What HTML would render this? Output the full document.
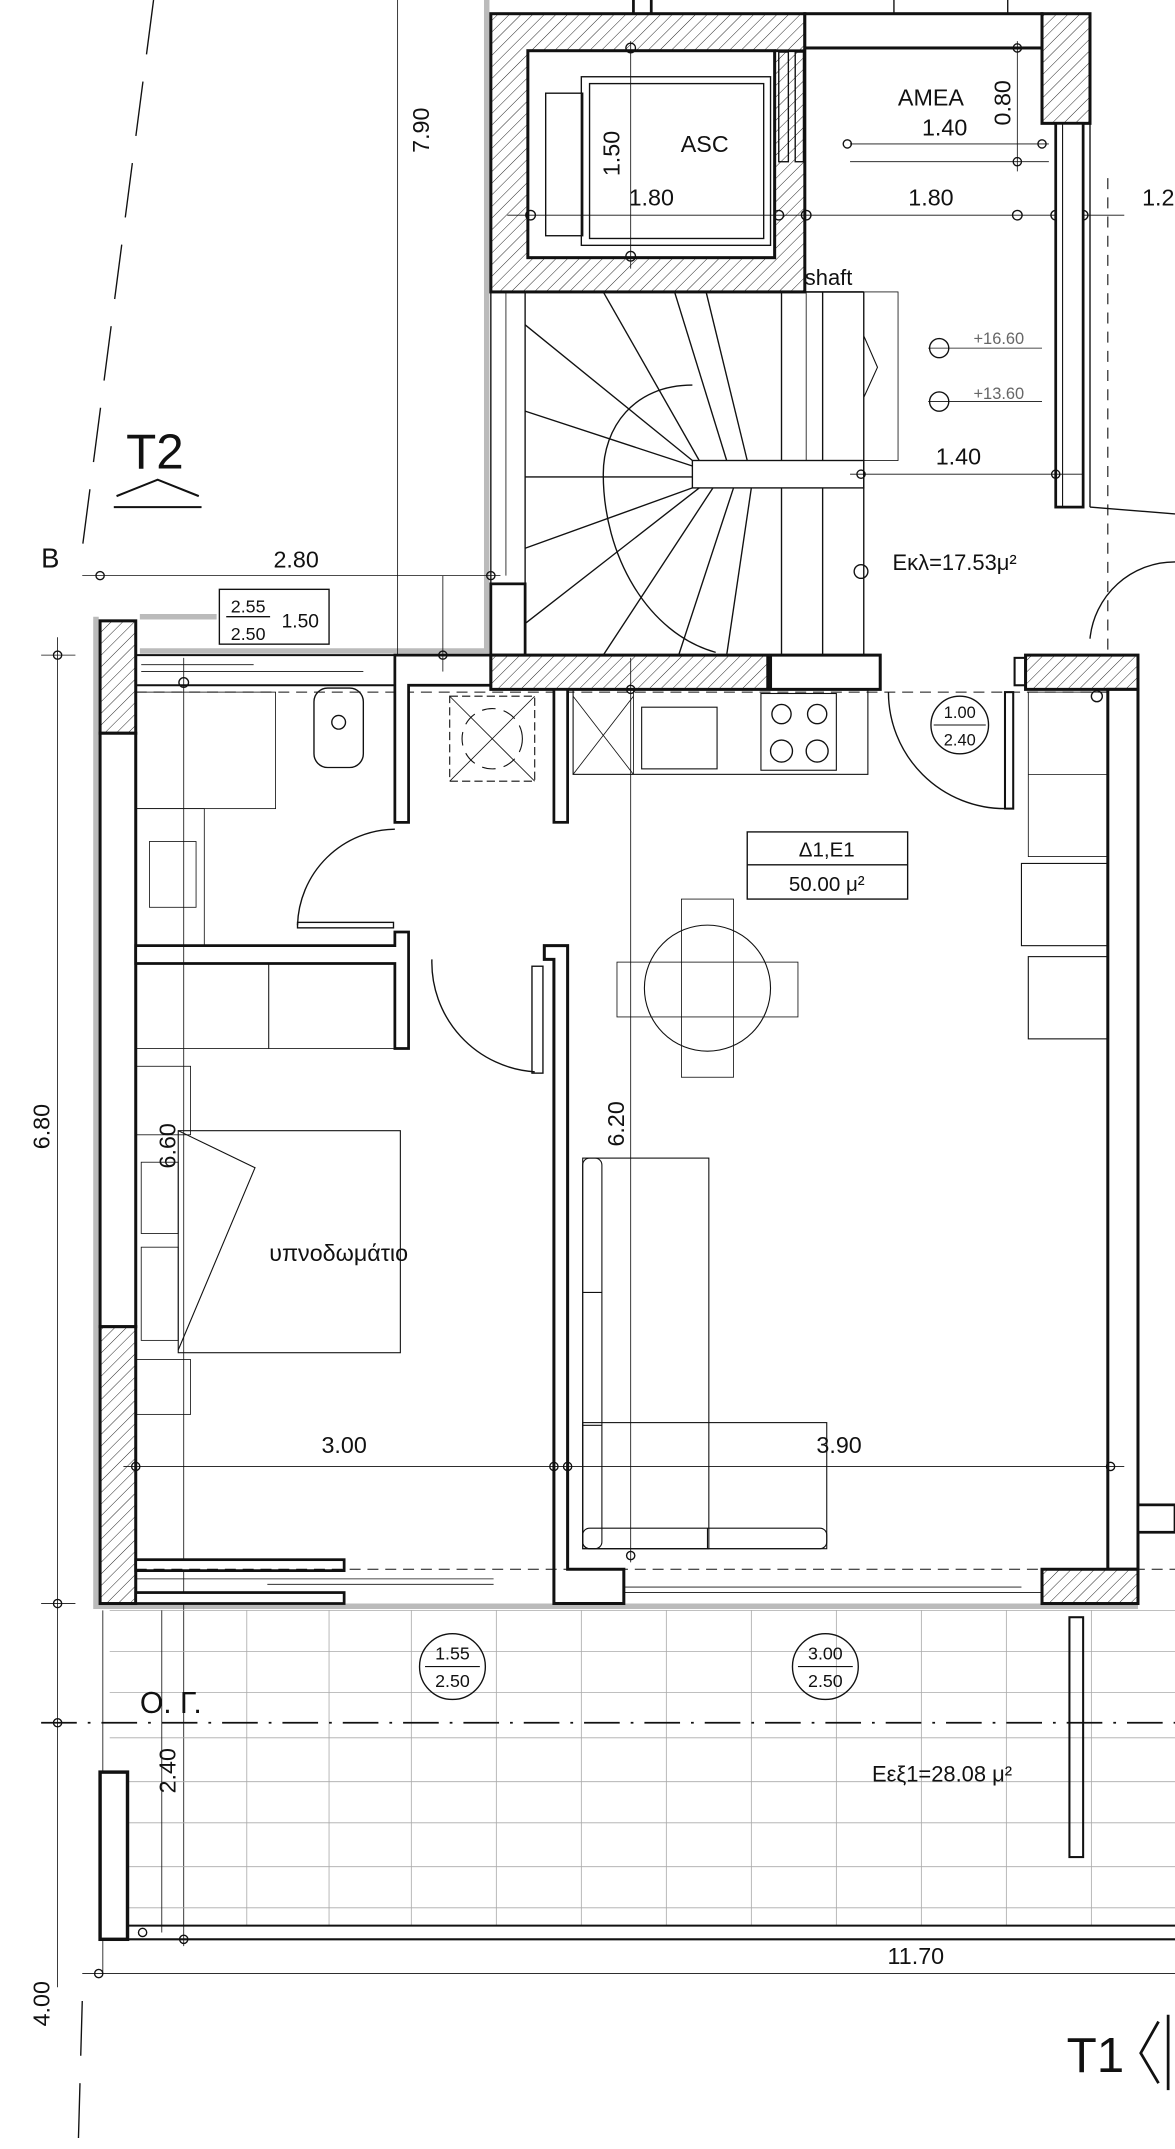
<!DOCTYPE html>
<html><head><meta charset="utf-8"><style>
html,body{margin:0;padding:0;background:#fff}
svg{display:block}
text{font-family:"Liberation Sans",sans-serif;fill:#111}
</style></head><body>
<svg width="1175" height="2149" viewBox="0 0 857 1568" preserveAspectRatio="none" xmlns="http://www.w3.org/2000/svg">
<defs>
<pattern id="h" patternUnits="userSpaceOnUse" width="6" height="6" patternTransform="rotate(45)">
<rect width="6" height="6" fill="#fff"/><line x1="0" y1="0" x2="0" y2="6" stroke="#222" stroke-width="0.7"/>
</pattern>
</defs>
<g fill="none" stroke="#111">
<line x1="112" y1="0" x2="60" y2="400" stroke-width="1" stroke-dasharray="40,20"/>
<line x1="60" y1="1460" x2="57" y2="1568" stroke-width="1" stroke-dasharray="40,20"/>
<line x1="75" y1="1175" x2="75" y2="1440" stroke-width="0.6"/>
<path d="M70,450 V1172 H830 M102,450 H158 M102,475 H355 V0" stroke="#bbb" stroke-width="4"/>
<line x1="290" y1="0" x2="290" y2="478" stroke-width="0.6"/>
<line x1="462" y1="0" x2="462" y2="10" stroke-width="2"/>
<line x1="475" y1="0" x2="475" y2="10" stroke-width="2"/>
<rect x="358" y="10" width="229" height="203" fill="url(#h)" stroke-width="2.2"/>
<rect x="385" y="37" width="180" height="151" fill="#fff" stroke-width="2.2"/>
<rect x="424" y="56" width="138" height="123" stroke-width="1"/>
<rect x="430" y="61" width="127" height="113" stroke-width="1"/>
<rect x="398" y="68" width="27" height="104" stroke-width="1"/>
<line x1="565" y1="37" x2="587" y2="37" stroke-width="2"/>
<rect x="568" y="38" width="7" height="80" stroke-width="1"/>
<rect x="580" y="38" width="6" height="80" stroke-width="1"/>
<line x1="460" y1="30" x2="460" y2="196" stroke-width="0.6"/>
<line x1="370" y1="157" x2="820" y2="157" stroke-width="0.6"/>
<circle cx="460" cy="35" r="3.5"/><circle cx="460" cy="187" r="3.5"/>
<circle cx="387" cy="157" r="3.5"/><circle cx="568" cy="157" r="3.5"/><circle cx="588" cy="157" r="3.5"/>
<circle cx="742" cy="157" r="3.5"/><circle cx="770" cy="157" r="3.5"/><circle cx="790" cy="157" r="3.5"/>
<rect x="587" y="10" width="173" height="25" stroke-width="2.2" fill="#fff"/>
<line x1="652" y1="0" x2="652" y2="10" stroke-width="1"/><line x1="735" y1="0" x2="735" y2="10" stroke-width="1"/>
<rect x="760" y="10" width="35" height="80" fill="url(#h)" stroke-width="2.2"/>
<line x1="620" y1="105" x2="765" y2="105" stroke-width="0.6"/>
<line x1="620" y1="118" x2="765" y2="118" stroke-width="0.6"/>
<line x1="742" y1="30" x2="742" y2="125" stroke-width="0.6"/>
<circle cx="742" cy="35" r="3"/><circle cx="742" cy="118" r="3"/><circle cx="618" cy="105" r="3"/><circle cx="760" cy="105" r="3"/>
<rect x="770" y="90" width="20" height="280" stroke-width="2" fill="#fff"/>
<line x1="775" y1="90" x2="775" y2="370" stroke-width="0.8"/>
<line x1="795" y1="90" x2="795" y2="370" stroke-width="1"/>
<line x1="795" y1="370" x2="857" y2="375" stroke-width="1"/>
<path d="M795,466 A62,62 0 0 1 857,410" stroke-width="1"/>
<line x1="808" y1="130" x2="808" y2="478" stroke-width="0.8" stroke-dasharray="8,6"/>
<rect x="358" y="213" width="25" height="265" stroke-width="1"/>
<line x1="369" y1="213" x2="369" y2="420" stroke-width="0.6"/>
<rect x="358" y="426" width="25" height="52" stroke-width="2"/>
<line x1="383" y1="213" x2="630" y2="213" stroke-width="1.2"/>
<g stroke-width="1">
<line x1="630" y1="213" x2="630" y2="478"/>
<rect x="505" y="336" width="125" height="20"/>
<path d="M505,281 C462,281 440,312 440,346 C440,405 472,462 522,476"/>
<line x1="383" y1="348" x2="505" y2="348"/>
<line x1="383" y1="237" x2="505" y2="336"/><line x1="383" y1="300" x2="505" y2="340"/>
<line x1="440" y1="213" x2="510" y2="336"/><line x1="492" y1="213" x2="530" y2="336"/><line x1="515" y1="213" x2="545" y2="336"/>
<line x1="570" y1="213" x2="570" y2="336"/><line x1="600" y1="213" x2="600" y2="336"/>
<line x1="383" y1="400" x2="505" y2="356"/><line x1="383" y1="455" x2="510" y2="356"/>
<line x1="440" y1="478" x2="520" y2="356"/><line x1="495" y1="478" x2="535" y2="356"/><line x1="530" y1="478" x2="548" y2="356"/>
<line x1="570" y1="356" x2="570" y2="478"/><line x1="600" y1="356" x2="600" y2="478"/>
<rect x="588" y="213" width="67" height="123" stroke-width="0.6"/>
<path d="M630,245 L640,268 L630,290" stroke-width="0.8"/>
</g>
<line x1="620" y1="346" x2="790" y2="346" stroke-width="0.6"/>
<circle cx="628" cy="346" r="3"/><circle cx="770" cy="346" r="3"/>
<circle cx="628" cy="417" r="5" stroke-width="1"/>
<circle cx="685" cy="254" r="7" stroke-width="1"/><circle cx="685" cy="293" r="7" stroke-width="1"/>
<line x1="677" y1="254" x2="760" y2="254" stroke-width="0.6"/><line x1="677" y1="293" x2="760" y2="293" stroke-width="0.6"/>
<rect x="73" y="453" width="26" height="82" fill="url(#h)" stroke-width="2.2"/>
<rect x="73" y="535" width="26" height="433" fill="#fff" stroke-width="2.2"/>
<rect x="73" y="968" width="26" height="202" fill="url(#h)" stroke-width="2.2"/>
<line x1="99" y1="478" x2="290" y2="478" stroke-width="1.5"/>
<line x1="99" y1="500" x2="290" y2="500" stroke-width="1.5"/>
<line x1="103" y1="485" x2="185" y2="485" stroke-width="0.6"/><line x1="103" y1="490" x2="265" y2="490" stroke-width="0.6"/>
<line x1="99" y1="505" x2="808" y2="505" stroke-width="0.8" stroke-dasharray="8,5"/>
<rect x="160" y="430" width="80" height="40" stroke-width="1"/>
<line x1="165" y1="450" x2="197" y2="450" stroke-width="1"/>
<path d="M288,478 H358 V500 H298 V600 H288 Z" fill="#fff" stroke-width="2"/>
<rect x="358" y="478" width="202" height="25" fill="url(#h)" stroke-width="2.2"/>
<rect x="562" y="478" width="80" height="25" fill="#fff" stroke-width="2.2"/>
<rect x="404" y="503" width="10" height="97" fill="#fff" stroke-width="2"/>
<rect x="748" y="478" width="82" height="25" fill="url(#h)" stroke-width="2.2"/>
<rect x="740" y="480" width="8" height="20" stroke-width="1.5"/>
<rect x="808" y="503" width="22" height="642" fill="#fff" stroke-width="2.2"/>
<rect x="760" y="1145" width="70" height="25" fill="url(#h)" stroke-width="2.2"/>
<rect x="830" y="1098" width="27" height="20" stroke-width="2" fill="#fff"/>
<rect x="229" y="502" width="36" height="58" rx="10" stroke-width="1"/>
<circle cx="247" cy="527" r="5" stroke-width="1"/>
<rect x="99" y="505" width="102" height="85" stroke-width="0.6"/>
<rect x="99" y="590" width="50" height="100" stroke-width="0.6"/>
<rect x="109" y="614" width="34" height="48" stroke-width="0.6"/>
<path d="M217,675 A72,72 0 0 1 288,605" stroke-width="1"/>
<rect x="217" y="673" width="70" height="4" stroke-width="1"/>
<path d="M99,690 H288 V680 H298 V765 H288 V703 H99 Z" fill="#fff" stroke-width="2"/>
<rect x="99" y="703" width="97" height="62" stroke-width="0.6"/>
<rect x="196" y="703" width="92" height="62" stroke-width="0.6"/>
<line x1="134" y1="480" x2="134" y2="1420" stroke-width="0.6"/>
<circle cx="134" cy="498" r="3.5"/>
<path d="M315,700 A80,80 0 0 0 390,782" stroke-width="1"/>
<rect x="388" y="705" width="8" height="78" stroke-width="1"/>
<path d="M397,690 H414 V1145 H455 V1170 H404 V700 H397 Z" fill="#fff" stroke-width="2.2"/>
<rect x="99" y="778" width="40" height="50" stroke-width="0.6"/>
<rect x="130" y="825" width="162" height="162" stroke-width="0.8"/>
<path d="M130,825 L186,852 L130,985" stroke-width="0.8"/>
<rect x="103" y="848" width="27" height="52" stroke-width="0.6"/>
<rect x="103" y="910" width="27" height="68" stroke-width="0.6"/>
<rect x="99" y="992" width="40" height="40" stroke-width="0.6"/>
<rect x="99" y="1138" width="152" height="8" fill="#fff" stroke-width="2"/>
<rect x="99" y="1162" width="152" height="8" fill="#fff" stroke-width="2"/>
<line x1="99" y1="1152" x2="360" y2="1152" stroke-width="0.6"/>
<line x1="195" y1="1156" x2="360" y2="1156" stroke-width="0.6"/>
<line x1="99" y1="1145" x2="857" y2="1145" stroke-width="0.8" stroke-dasharray="8,5"/>
<line x1="455" y1="1162" x2="760" y2="1162" stroke-width="0.6"/>
<line x1="455" y1="1158" x2="745" y2="1158" stroke-width="0.6"/>
<rect x="328" y="508" width="62" height="62" stroke-width="0.8" stroke-dasharray="6,3"/>
<circle cx="359" cy="539" r="22" stroke-width="0.8" stroke-dasharray="10,6"/>
<line x1="328" y1="508" x2="390" y2="570" stroke-width="0.6"/><line x1="390" y1="508" x2="328" y2="570" stroke-width="0.6"/>
<rect x="418" y="503" width="215" height="62" stroke-width="0.8"/>
<line x1="418" y1="508" x2="462" y2="565" stroke-width="0.6"/><line x1="462" y1="508" x2="418" y2="565" stroke-width="0.6"/>
<line x1="462" y1="503" x2="462" y2="565" stroke-width="0.6"/>
<rect x="468" y="516" width="55" height="45" stroke-width="0.8"/>
<rect x="555" y="506" width="55" height="56" stroke-width="0.8"/>
<circle cx="570" cy="521" r="7"/><circle cx="596" cy="521" r="7"/><circle cx="570" cy="548" r="8"/><circle cx="596" cy="548" r="8"/>
<path d="M648,505 A85,85 0 0 0 733,590" stroke-width="1"/>
<rect x="733" y="505" width="6" height="85" stroke-width="1.5"/>
<circle cx="700" cy="529" r="21" stroke-width="1"/><line x1="681" y1="529" x2="719" y2="529" stroke-width="0.8"/>
<circle cx="800" cy="508" r="4" stroke-width="1"/>
<rect x="750" y="505" width="58" height="120" stroke-width="0.6"/>
<line x1="750" y1="565" x2="808" y2="565" stroke-width="0.6"/>
<rect x="745" y="630" width="63" height="60" stroke-width="0.8"/>
<rect x="750" y="698" width="58" height="60" stroke-width="0.8"/>
<rect x="545" y="607" width="117" height="49" stroke-width="1"/>
<line x1="545" y1="631" x2="662" y2="631" stroke-width="1"/>
<circle cx="516" cy="721" r="46" stroke-width="0.8"/>
<rect x="497" y="656" width="38" height="130" stroke-width="0.6"/>
<rect x="450" y="702" width="132" height="40" stroke-width="0.6"/>
<rect x="425" y="845" width="92" height="285" stroke-width="0.8"/>
<rect x="425" y="1038" width="178" height="92" stroke-width="0.8"/>
<rect x="425" y="845" width="14" height="285" rx="5" stroke-width="0.8"/>
<rect x="425" y="1115" width="178" height="15" rx="5" stroke-width="0.8"/>
<line x1="425" y1="943" x2="439" y2="943" stroke-width="0.8"/><line x1="425" y1="1040" x2="439" y2="1040" stroke-width="0.8"/>
<line x1="516" y1="1115" x2="516" y2="1130" stroke-width="0.8"/>
<line x1="460" y1="480" x2="460" y2="1140" stroke-width="0.6"/>
<circle cx="460" cy="503" r="3"/><circle cx="460" cy="1135" r="3"/>
<line x1="60" y1="420" x2="365" y2="420" stroke-width="0.6"/>
<circle cx="73" cy="420" r="3"/><circle cx="358" cy="420" r="3"/>
<line x1="42" y1="465" x2="42" y2="1450" stroke-width="0.6"/>
<line x1="30" y1="478" x2="55" y2="478" stroke-width="0.6"/><line x1="30" y1="1170" x2="55" y2="1170" stroke-width="0.6"/>
<circle cx="42" cy="478" r="3"/><circle cx="42" cy="1170" r="3"/><circle cx="42" cy="1257" r="3"/>
<line x1="90" y1="1070" x2="820" y2="1070" stroke-width="0.6"/>
<circle cx="99" cy="1070" r="3"/><circle cx="404" cy="1070" r="3"/><circle cx="414" cy="1070" r="3"/><circle cx="810" cy="1070" r="3"/>
<circle cx="323" cy="478" r="3"/><line x1="323" y1="420" x2="323" y2="490" stroke-width="0.6"/>
<g stroke="#aaa" stroke-width="0.6">
<line x1="80" y1="1175" x2="857" y2="1175"/>
<line x1="80" y1="1205" x2="857" y2="1205"/><line x1="80" y1="1235" x2="857" y2="1235"/>
<line x1="80" y1="1268" x2="857" y2="1268"/><line x1="80" y1="1300" x2="857" y2="1300"/>
<line x1="80" y1="1330" x2="857" y2="1330"/><line x1="80" y1="1362" x2="857" y2="1362"/>
<line x1="80" y1="1392" x2="857" y2="1392"/>
<line x1="180" y1="1175" x2="180" y2="1405"/><line x1="240" y1="1175" x2="240" y2="1405"/>
<line x1="300" y1="1175" x2="300" y2="1405"/><line x1="362" y1="1175" x2="362" y2="1405"/>
<line x1="424" y1="1175" x2="424" y2="1405"/><line x1="486" y1="1175" x2="486" y2="1405"/>
<line x1="548" y1="1175" x2="548" y2="1405"/><line x1="610" y1="1175" x2="610" y2="1405"/>
<line x1="672" y1="1175" x2="672" y2="1405"/><line x1="734" y1="1175" x2="734" y2="1405"/>
<line x1="796" y1="1175" x2="796" y2="1405"/>
</g>
<line x1="118" y1="1175" x2="118" y2="1410" stroke-width="0.6"/>
<line x1="30" y1="1257" x2="857" y2="1257" stroke-width="1.3" stroke-dasharray="26,8,2,8"/>
<circle cx="330" cy="1216" r="24" stroke-width="1"/><line x1="310" y1="1216" x2="350" y2="1216" stroke-width="0.8"/>
<circle cx="602" cy="1216" r="24" stroke-width="1"/><line x1="582" y1="1216" x2="622" y2="1216" stroke-width="0.8"/>
<rect x="780" y="1180" width="10" height="175" stroke-width="1.5"/>
<rect x="73" y="1293" width="20" height="122" fill="#fff" stroke-width="2.5"/>
<line x1="93" y1="1405" x2="857" y2="1405" stroke-width="1.5"/>
<line x1="93" y1="1415" x2="857" y2="1415" stroke-width="1.5"/>
<line x1="60" y1="1440" x2="857" y2="1440" stroke-width="0.6"/>
<circle cx="72" cy="1440" r="3"/><circle cx="134" cy="1415" r="3"/><circle cx="104" cy="1410" r="3"/>
<path d="M845,1475 L832,1498 L845,1520" stroke-width="2"/>
<line x1="852" y1="1470" x2="852" y2="1525" stroke-width="2"/>
<path d="M85,362 L115,350 L145,362" stroke-width="1.5"/>
<line x1="83" y1="370" x2="147" y2="370" stroke-width="1.5"/>
</g>
<text x="313" y="95" font-size="17" transform="rotate(-90 313 95)" text-anchor="middle">7.90</text>
<text x="514" y="111" font-size="17" text-anchor="middle">ASC</text>
<text x="452" y="112" font-size="17" transform="rotate(-90 452 112)" text-anchor="middle">1.50</text>
<text x="475" y="150" font-size="17" text-anchor="middle">1.80</text>
<text x="679" y="77" font-size="17" text-anchor="middle">AMEA</text>
<text x="689" y="99" font-size="17" text-anchor="middle">1.40</text>
<text x="737" y="75" font-size="17" transform="rotate(-90 737 75)" text-anchor="middle">0.80</text>
<text x="679" y="150" font-size="17" text-anchor="middle">1.80</text>
<text x="833" y="150" font-size="17">1.2</text>
<text x="587" y="208" font-size="16">shaft</text>
<text x="710" y="251" font-size="12" style="fill:#666">+16.60</text>
<text x="710" y="291" font-size="12" style="fill:#666">+13.60</text>
<text x="699" y="339" font-size="17" text-anchor="middle">1.40</text>
<text x="651" y="416" font-size="16">Εκλ=17.53μ²</text>
<text x="92" y="342" font-size="36">T2</text>
<text x="30" y="414" font-size="20">B</text>
<text x="216" y="414" font-size="17" text-anchor="middle">2.80</text>
<text x="181" y="447" font-size="13" text-anchor="middle">2.55</text>
<text x="181" y="467" font-size="13" text-anchor="middle">2.50</text>
<text x="219" y="458" font-size="14" text-anchor="middle">1.50</text>
<text x="700" y="524" font-size="12" text-anchor="middle">1.00</text>
<text x="700" y="544" font-size="12" text-anchor="middle">2.40</text>
<text x="603" y="625" font-size="15" text-anchor="middle">Δ1,Ε1</text>
<text x="603" y="650" font-size="15" text-anchor="middle">50.00 μ²</text>
<text x="36" y="822" font-size="17" transform="rotate(-90 36 822)" text-anchor="middle">6.80</text>
<text x="128" y="836" font-size="17" transform="rotate(-90 128 836)" text-anchor="middle">6.60</text>
<text x="455" y="820" font-size="17" transform="rotate(-90 455 820)" text-anchor="middle">6.20</text>
<text x="247" y="920" font-size="17" text-anchor="middle">υπνοδωμάτιο</text>
<text x="251" y="1060" font-size="17" text-anchor="middle">3.00</text>
<text x="612" y="1060" font-size="17" text-anchor="middle">3.90</text>
<text x="330" y="1211" font-size="13" text-anchor="middle">1.55</text>
<text x="330" y="1231" font-size="13" text-anchor="middle">2.50</text>
<text x="602" y="1211" font-size="13" text-anchor="middle">3.00</text>
<text x="602" y="1231" font-size="13" text-anchor="middle">2.50</text>
<text x="102" y="1250" font-size="22">Ο. Γ.</text>
<text x="128" y="1292" font-size="17" transform="rotate(-90 128 1292)" text-anchor="middle">2.40</text>
<text x="636" y="1300" font-size="16">Εεξ1=28.08 μ²</text>
<text x="668" y="1433" font-size="17" text-anchor="middle">11.70</text>
<text x="36" y="1462" font-size="17" transform="rotate(-90 36 1462)" text-anchor="middle">4.00</text>
<text x="778" y="1512" font-size="36">T1</text>
</svg>
</body></html>
